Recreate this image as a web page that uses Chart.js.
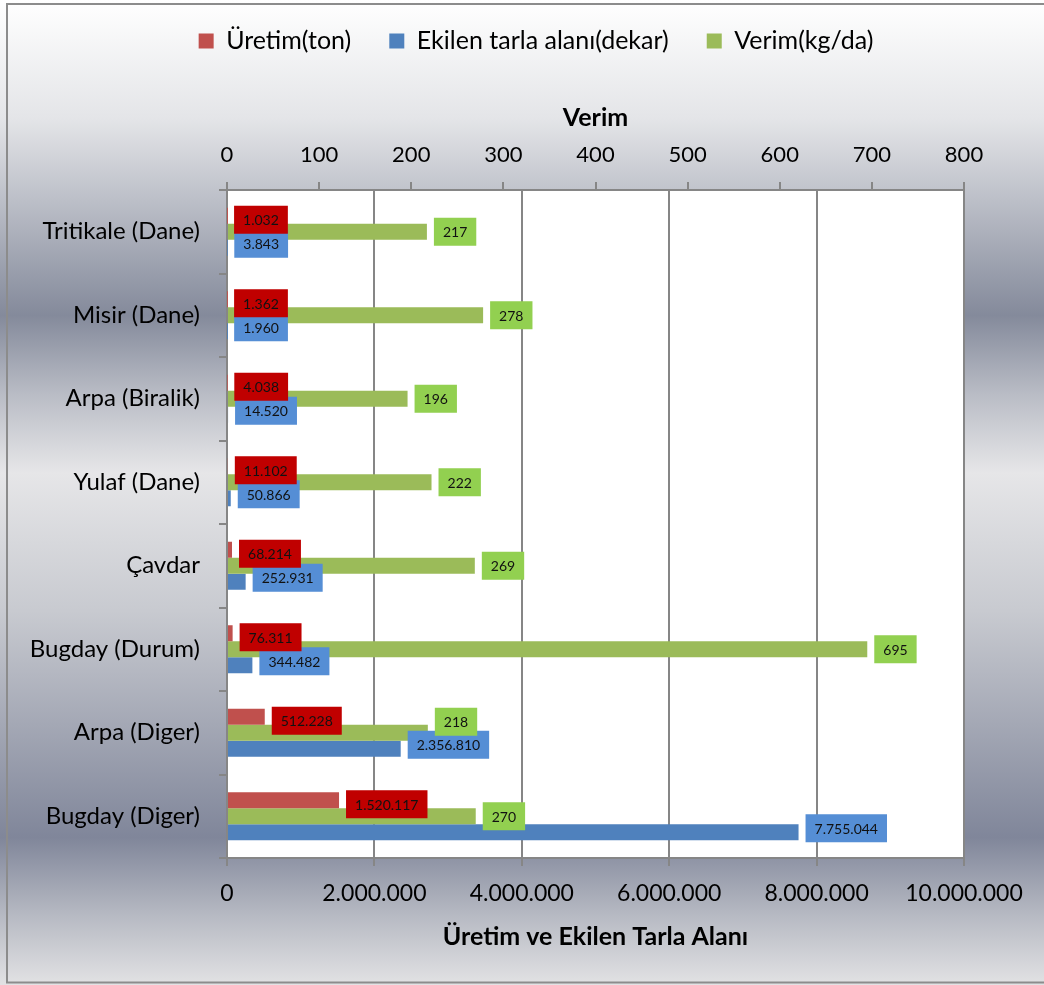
<!DOCTYPE html>
<html>
<head>
<meta charset="utf-8">
<script src="https://cdn.jsdelivr.net/npm/chart.js@4.4.1/dist/chart.umd.min.js"></script>
<style>
  html, body { margin: 0; padding: 0; background: #ffffff; }
  #wrap { width: 1044px; height: 985px; position: relative; }
</style>
</head>
<body>
<div id="wrap"><canvas id="c" width="1044" height="985"></canvas></div>
<script>
const categories = ['Tritikale (Dane)', 'Misir (Dane)', 'Arpa (Biralik)', 'Yulaf (Dane)', 'Çavdar', 'Bugday (Durum)', 'Arpa (Diger)', 'Bugday (Diger)'];
const uretim = [1032, 1362, 4038, 11102, 68214, 76311, 512228, 1520117];
const ekilen = [3843, 1960, 14520, 50866, 252931, 344482, 2356810, 7755044];
const verim = [217, 278, 196, 222, 269, 695, 218, 270];
const bottomTicks = [0, 2000000, 4000000, 6000000, 8000000, 10000000];
const topTicks = [0, 100, 200, 300, 400, 500, 600, 700, 800];

const FONT = 'Lato, "Open Sans", sans-serif';
const GRID = '#868686';
const PAD = { left: 8, right: 80, top: -9.5, bottom: 0 };
const PLOT_TOP = 190, PLOT_BOTTOM = 858, PLOT_LEFT = 227;
const LEGEND_SHIFT = 50;

function fmt(v) {
  return String(v).replace(/\B(?=(\d{3})+(?!\d))/g, '.');
}

const bgPlugin = {
  id: 'bg',
  afterLayout(chart) {
    if (chart.legend) {
      chart.legend.left += LEGEND_SHIFT;
      chart.legend.right += LEGEND_SHIFT;
    }
  },
  beforeDraw(chart) {
    const { ctx, width, height, chartArea } = chart;
    ctx.save();
    const g = ctx.createLinearGradient(0, 0, 0, height);
    g.addColorStop(0.0, '#ffffff');
    g.addColorStop(0.12, '#e4e5e8');
    g.addColorStop(0.32, '#848a9b');
    g.addColorStop(0.40, '#b9bcc5');
    g.addColorStop(0.48, '#e6e6e8');
    g.addColorStop(0.62, '#c8cad0');
    g.addColorStop(0.85, '#80869a');
    g.addColorStop(0.93, '#b7bac3');
    g.addColorStop(1.0, '#e2e2e4');
    ctx.fillStyle = g;
    ctx.fillRect(0, 0, width, height);
    ctx.strokeStyle = '#8c8c8c';
    ctx.lineWidth = 2;
    ctx.strokeRect(7, 4, width + 10, height - 6.5);
    ctx.fillStyle = '#ffffff';
    ctx.fillRect(chartArea.left, chartArea.top, chartArea.right - chartArea.left, chartArea.bottom - chartArea.top);
    ctx.restore();
  }
};

// dataset index -> label box style (0 Üretim, 1 Verim, 2 Ekilen)
const labelStyle = {
  0: { bg: '#C00000', shift: 4 },
  1: { bg: '#92D050', shift: 0 },
  2: { bg: '#558ED5', shift: -4 }
};

const labelPlugin = {
  id: 'valueLabels',
  afterDatasetsDraw(chart) {
    const { ctx } = chart;
    ctx.save();
    ctx.font = '14px ' + FONT;
    ctx.textAlign = 'center';
    ctx.textBaseline = 'middle';
    const boxH = 28, padX = 9, gap = 7;
    const boxes = {};
    for (const di of [0, 1, 2]) {
      const meta = chart.getDatasetMeta(di);
      boxes[di] = meta.data.map((bar, i) => {
        const text = fmt(chart.data.datasets[di].data[i]);
        const w = ctx.measureText(text).width + padX * 2;
        const x = bar.x + gap;
        const cy = bar.y + labelStyle[di].shift;
        return { text, x, y: cy - boxH / 2, w, h: boxH };
      });
    }
    // middle series label moves up when it collides with the lower series label
    boxes[1].forEach((b, i) => {
      const ob = boxes[2][i];
      if (ob.x < b.x + b.w && b.x < ob.x + ob.w && ob.y < b.y + b.h && b.y < ob.y + ob.h) {
        b.y -= 11;
      }
    });
    for (const di of [2, 1, 0]) {
      boxes[di].forEach(b => {
        ctx.fillStyle = labelStyle[di].bg;
        ctx.fillRect(b.x, b.y, b.w, b.h);
        ctx.fillStyle = '#111111';
        ctx.fillText(b.text, b.x + b.w / 2, b.y + b.h / 2 + 1);
      });
    }
    ctx.restore();
  }
};

const legendRank = { 0: 0, 2: 1, 1: 2 };

new Chart(document.getElementById('c'), {
  type: 'bar',
  data: {
    labels: categories,
    datasets: [
      { label: 'Üretim(ton)', data: uretim, backgroundColor: '#C0504D', xAxisID: 'x' },
      { label: 'Verim(kg/da)', data: verim, backgroundColor: '#9BBB59', xAxisID: 'x2' },
      { label: 'Ekilen tarla alanı(dekar)', data: ekilen, backgroundColor: '#4F81BD', xAxisID: 'x' }
    ]
  },
  options: {
    indexAxis: 'y',
    responsive: false,
    animation: false,
    devicePixelRatio: 1,
    layout: { padding: PAD },
    datasets: { bar: { barPercentage: 1, categoryPercentage: 0.575, borderWidth: 0 } },
    plugins: {
      legend: {
        position: 'top',
        labels: {
          font: { family: FONT, size: 25 },
          color: '#000000',
          boxWidth: 15,
          boxHeight: 15,
          padding: 38,
          sort: (a, b) => legendRank[a.datasetIndex] - legendRank[b.datasetIndex]
        }
      },
      tooltip: { enabled: false }
    },
    scales: {
      y: {
        position: 'left',
        afterFit(s) { s.width = PLOT_LEFT - PAD.left; },
        grid: { offset: true, drawOnChartArea: false, color: GRID, lineWidth: 2, tickLength: 8 },
        border: { color: GRID, width: 2 },
        ticks: { font: { family: FONT, size: 24 }, color: '#000000', padding: 19, autoSkip: false }
      },
      x: {
        position: 'bottom',
        min: 0, max: 10000000,
        afterFit(s) { s.height = 985 - PLOT_BOTTOM - PAD.bottom; },
        afterBuildTicks(s) { s.ticks = bottomTicks.map(v => ({ value: v })); },
        grid: { color: GRID, lineWidth: 2, tickLength: 8 },
        border: { color: GRID, width: 2 },
        ticks: { font: { family: FONT, size: 23 }, color: '#000000', padding: 14, maxRotation: 0, callback: v => fmt(v) },
        title: { display: true, text: 'Üretim ve Ekilen Tarla Alanı', font: { family: FONT, size: 25, weight: 'bold' }, color: '#000000', padding: { top: 0, bottom: 33 } }
      },
      x2: {
        position: 'top',
        min: 0, max: 800,
        afterFit(s) {
          const lh = s.chart.legend ? s.chart.legend.height : 73;
          s.height = PLOT_TOP - (PAD.top + lh);
        },
        afterBuildTicks(s) { s.ticks = topTicks.map(v => ({ value: v })); },
        grid: { drawOnChartArea: false, color: GRID, lineWidth: 2, tickLength: 8 },
        border: { color: GRID, width: 2 },
        ticks: { font: { family: FONT, size: 22 }, color: '#000000', padding: 14, maxRotation: 0 },
        title: { display: true, text: 'Verim', font: { family: FONT, size: 25, weight: 'bold' }, color: '#000000', padding: { top: 39, bottom: 0 } }
      }
    }
  },
  plugins: [bgPlugin, labelPlugin]
});
</script>
</body>
</html>
